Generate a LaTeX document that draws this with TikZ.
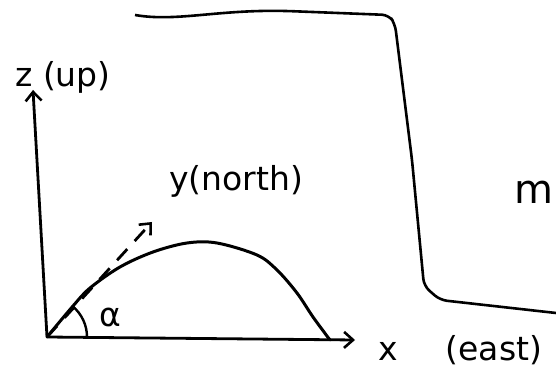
\documentclass[tikz,border=0pt]{standalone}
\usepackage{fontspec}
\newfontfamily\handfont{DejaVu Sans}
\usepackage{tikz}
\usetikzlibrary{positioning, arrows.meta}

\begin{document}
\begin{tikzpicture}[
    x=1pt, y=1pt,
    ax/.style={line width=2.8pt, -{Straight Barb[length=9pt, width=16pt, line width=2.6pt]}},
    traj/.style={line width=3pt, line cap=round},
    wall/.style={line width=2.6pt, line join=round, rounded corners=7pt},
    lbl/.style={font=\handfont\fontsize{33}{35}\selectfont, inner sep=0pt},
]
\useasboundingbox (0,0) rectangle (556,382);

\coordinate (o) at (47,45);
\coordinate (ztip) at (33,292);
\coordinate (xtip) at (355,42);
\coordinate (ytip) at (152,160);

% axes
\draw[ax] (o) -- (ztip);
\draw[ax] (o) -- (xtip);
\draw[ax, dash pattern=on 15pt off 11pt] (o) -- (ytip);

% trajectory
\draw[traj] plot[smooth, tension=0.55] coordinates {(47,45) (73,76) (90,94) (120,115) (153,130) (187,139) (217,139) (257,127) (277,112) (297,89) (313,65) (330,42)};

% angle
\draw[line width=2.4pt] ([shift={(0:40)}]o) arc[start angle=0, end angle=50, radius=40];

% wall
\draw[wall] (135,367) .. controls (175,360) and (215,372) .. (287,371) -- (389,367) -- (395,358) -- (412,222) -- (424,96) -- (440,82) -- (556,69);

\node[lbl] (zlab) at (63,305) {z (up)};
\node[lbl] (xlab) at (388,31) {x};
\node[lbl] (elab) at (494,32) {(east)};
\node[lbl] (ylab) at (236,201) {y(north)};
\node[lbl] (alab) at (110,65) {α};
\node[lbl, font=\handfont\fontsize{40}{42}\selectfont, anchor=east] (mlab) at (554,190) {m};
\end{tikzpicture}
\end{document}
